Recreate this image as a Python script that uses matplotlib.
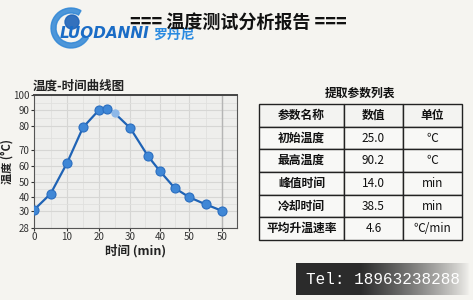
import numpy as np
import matplotlib
matplotlib.use("Agg")
import matplotlib.pyplot as plt
from matplotlib.patches import Circle, Wedge

plt.rcParams['font.family'] = ['Noto Sans CJK SC', 'DejaVu Sans']

# ---------------- data ----------------
time_min = [0, 5, 10, 15, 20, 22.5, 25, 30, 36, 40, 45, 50, 55, 60]
temp_c = [31, 42, 62, 79.3, 90, 91, 88, 79, 66.2, 56.8, 45.8, 39.6, 34.7, 30.2]
faint_index = 6

x_ticks = [0, 10, 20, 30, 40, 50, 60]
x_tick_labels = ["0", "10", "20", "30", "40", "50", "50"]
y_ticks = [28, 30, 40, 50, 60, 70, 80, 90, 100]

table_cols = ["参数名称", "数值", "单位"]
param_names = ["初始温度", "最高温度", "峰值时间", "冷却时间", "平均升温速率"]
param_values = ["25.0", "90.2", "14.0", "38.5", "4.6"]
param_units = ["℃", "℃", "min", "min", "℃/min"]

# uneven axis spacing as drawn in the reference (scale definition)
y_anchor_vals = [28, 30, 40, 50, 60, 70, 80, 90, 100]
y_anchor_pos = [0, 16.5, 30.8, 45.8, 61.2, 77.3, 101.8, 117.5, 132.5]
x_anchor_vals = [0, 10, 20, 30, 40, 50, 60, 65]
x_anchor_pos = [0, 32.7, 64.7, 96, 125.7, 155, 187.4, 203]


def make_scale(vals, pos):
    vals = np.asarray(vals, float)
    pos = np.asarray(pos, float)

    def fwd(v):
        return np.interp(v, vals, pos)

    def inv(p):
        return np.interp(p, pos, vals)
    return fwd, inv


BG = "#f5f4f0"
fig = plt.figure(figsize=(4.73, 3.0), dpi=100, facecolor=BG)

# logo (watermark)
logo_ax = fig.add_axes([0.0, 0.8, 0.45, 0.2])
logo_ax.set_xlim(0, 473 * 0.45)
logo_ax.set_ylim(0, 60)
logo_ax.axis("off")
logo_ax.add_patch(Wedge((71, 32), 20, 60, 330, width=5, color="#2f86d6", alpha=0.85))
logo_ax.add_patch(Circle((72, 38), 7, color="#1e63b8", alpha=0.9))
logo_ax.text(60, 26, "LUODANNI", fontsize=11, fontweight="bold", style="italic",
             color="#1a6cc6", va="center", ha="left", family=["DejaVu Sans"])
logo_ax.text(153, 25, "罗丹尼", fontsize=10, fontweight="bold",
             color="#2a8ae0", va="center", ha="left")

# ---------------- header ----------------
fig.text(0.503, 0.925, "=== 温度测试分析报告 ===", ha="center", va="center",
         fontsize=13, fontweight="bold", color="#111111", zorder=5)

# ---------------- line chart ----------------
ax = fig.add_axes([34.3 / 473, 1 - 227.5 / 300, (237.3 - 34.3) / 473, (227.5 - 95) / 300])
ax.set_facecolor("#eeeeec")
ax.set_xscale("function", functions=make_scale(x_anchor_vals, x_anchor_pos))
ax.set_yscale("function", functions=make_scale(y_anchor_vals, y_anchor_pos))
ax.set_xlim(0, 65)
ax.set_ylim(28, 100)

ax.set_xticks(x_ticks)
ax.set_xticklabels(x_tick_labels)
ax.set_yticks(y_ticks)
ax.set_xticks([5, 15, 25, 35, 45, 55], minor=True)
ax.set_yticks([35, 45, 55, 65, 75, 85, 95], minor=True)
ax.grid(True, which="major", color="#d6d6d4", linewidth=0.8)
ax.grid(True, which="minor", color="#e0e0de", linewidth=0.6)
ax.axvline(60, color="#b5b5b5", linewidth=1.0, zorder=1)
ax.tick_params(which="minor", length=0)
ax.tick_params(which="major", labelsize=7, colors="#333333", length=2, pad=1.5)
for s in ax.spines.values():
    s.set_color("#555555")
    s.set_linewidth(0.8)
ax.spines["top"].set_linewidth(1.4)
ax.spines["top"].set_color("#444444")
ax.set_axisbelow(True)

ax.plot(time_min, temp_c, color="#1f63b5", linewidth=1.6, zorder=3)
main_idx = [i for i in range(len(time_min)) if i != faint_index]
ax.plot([time_min[i] for i in main_idx], [temp_c[i] for i in main_idx],
        linestyle="none", marker="o", markersize=6.5, markerfacecolor="#3f87d6",
        markeredgecolor="#2a6ec0", markeredgewidth=0.8, zorder=4)
ax.plot([time_min[faint_index]], [temp_c[faint_index]], linestyle="none", marker="o",
        markersize=5, markerfacecolor="#8db8e8", markeredgecolor="#8db8e8", zorder=4)

ax.set_title("温度-时间曲线图", loc="left", fontsize=9, fontweight="bold",
             color="#222222", pad=4, x=-0.01)
ax.set_xlabel("时间 (min)", fontsize=9, fontweight="bold", color="#222222", labelpad=1)
ax.set_ylabel("温度 (°C)", fontsize=8, fontweight="bold", color="#222222", labelpad=0)
ax.yaxis.set_label_coords(-0.1, 0.5)

# ---------------- table ----------------
tax = fig.add_axes([259 / 473, 1 - 240 / 300, (461.7 - 259) / 473, (240 - 104) / 300])
tax.axis("off")
cell_text = [[n, v, u] for n, v, u in zip(param_names, param_values, param_units)]
widths = np.array([85, 59, 58.7])
tbl = tax.table(cellText=cell_text, colLabels=table_cols, bbox=[0, 0, 1, 1],
                colWidths=list(widths / widths.sum()), cellLoc="center")
tbl.auto_set_font_size(False)
for (r, c), cell in tbl.get_celld().items():
    cell.set_edgecolor("#222222")
    cell.set_linewidth(1.0)
    cell.set_facecolor("#f3f3f1" if r == 0 else "#f8f8f6")
    cell.get_text().set_fontsize(8.5)
    cell.get_text().set_color("#111111")
    cell.get_text().set_fontweight("bold" if (r == 0 or c == 0) else "medium")
tax.set_title("提取参数列表", fontsize=8.5, fontweight="bold", color="#111111", pad=5)

# ---------------- phone watermark ----------------
grad_ax = fig.add_axes([296 / 473, 1 - 295 / 300, (470 - 296) / 473, (295 - 263) / 300])
grad_ax.axis("off")
g = np.linspace(0, 1, 256)
alpha = np.clip((1 - g) * 1.6, 0, 1) ** 0.8
rgba = np.zeros((1, 256, 4))
rgba[..., :3] = 0.17
rgba[..., 3] = alpha
grad_ax.imshow(rgba, aspect="auto", extent=[0, 1, 0, 1])
grad_ax.set_xlim(0, 1)
grad_ax.set_ylim(0, 1)
grad_ax.text(0.06, 0.5, "Tel: 18963238288", fontsize=11.5, color="white",
             family=["Liberation Mono", "DejaVu Sans Mono"], va="center", ha="left")

fig.savefig("out.png", dpi=100, facecolor=BG)
